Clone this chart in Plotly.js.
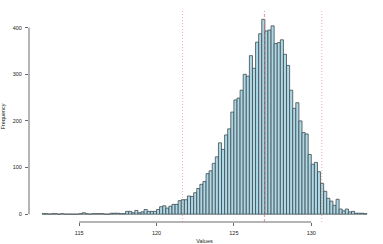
<!DOCTYPE html>
<html>
<head>
<meta charset="utf-8">
<script src="https://cdn.plot.ly/plotly-3.0.1.min.js"></script>
<style>html,body{margin:0;padding:0;background:#fff}#chart{width:383px;height:244px}</style>
</head>
<body>
<div id="chart"></div>
<script>
// Histogram bin left edges (bin width 0.2)
const binLeft = [
  112.6,112.8,113.0,113.2,113.4,113.6,113.8,114.0,114.2,114.4,
  114.6,114.8,115.0,115.2,115.4,115.6,115.8,116.0,116.2,116.4,
  116.6,116.8,117.0,117.2,117.4,117.6,117.8,118.0,118.2,118.4,
  118.6,118.8,119.0,119.2,119.4,119.6,119.8,120.0,120.2,120.4,
  120.6,120.8,121.0,121.2,121.4,121.6,121.8,122.0,122.2,122.4,
  122.6,122.8,123.0,123.2,123.4,123.6,123.8,124.0,124.2,124.4,
  124.6,124.8,125.0,125.2,125.4,125.6,125.8,126.0,126.2,126.4,
  126.6,126.8,127.0,127.2,127.4,127.6,127.8,128.0,128.2,128.4,
  128.6,128.8,129.0,129.2,129.4,129.6,129.8,130.0,130.2,130.4,
  130.6,130.8,131.0,131.2,131.4,131.6,131.8,132.0,132.2,132.4,
  132.6,132.8,133.0,133.2,133.4
];
const binWidth = 0.2;
// Frequencies per bin
const counts = [
  1,1,0,1,1,0,1,0,0,0,
  0,0,1,3,1,0,1,1,1,1,
  0,0,2,2,2,1,1,6,6,3,
  8,3,5,10,6,6,6,10,16,18,
  13,17,21,21,29,31,31,39,38,46,
  55,64,70,87,93,109,123,153,139,170,
  183,219,245,249,266,300,296,340,313,369,
  387,418,393,395,404,366,368,374,343,319,
  266,227,239,200,175,172,128,107,111,91,
  66,49,34,28,19,32,11,7,11,5,
  6,2,2,2,1
];
const xTicks = [115, 120, 125, 130];
const yTicks = [0, 100, 200, 300, 400];
const centerValue = [126.97];           // dashed line
const boundValues = [121.68, 130.68];   // dotted lines

const font = {family: 'Liberation Sans, Arial, sans-serif', size: 5.5, color: '#222'};

const trace = {
  type: 'bar',
  x: binLeft,
  y: counts,
  width: binWidth,
  offset: 0,
  marker: {color: '#ADD8E6', line: {color: '#3f4a4f', width: 0.8}},
  hoverinfo: 'x+y'
};

const shapes = [];
// R-style axis lines spanning tick range only
shapes.push({type:'line', xref:'paper', x0:0, x1:0, yref:'y', y0:yTicks[0], y1:yTicks[yTicks.length-1], line:{color:'#444', width:0.8}});
shapes.push({type:'line', xref:'x', x0:xTicks[0], x1:xTicks[xTicks.length-1], yref:'paper', y0:0, y1:0, line:{color:'#444', width:0.8}});
centerValue.forEach(v => shapes.push({type:'line', xref:'x', x0:v, x1:v, yref:'paper', y0:0, y1:1, line:{color:'rgba(215,110,120,0.75)', width:1, dash:'3px,2px'}}));
boundValues.forEach(v => shapes.push({type:'line', xref:'x', x0:v, x1:v, yref:'paper', y0:0, y1:1, line:{color:'rgba(230,120,130,0.75)', width:0.8, dash:'1px,2px'}}));

const layout = {
  width: 383, height: 244,
  margin: {l: 29, r: 3, t: 11, b: 22},
  paper_bgcolor: '#fff', plot_bgcolor: '#fff',
  font: font,
  showlegend: false,
  bargap: 0,
  xaxis: {
    range: [111.76, 134.44], tickvals: xTicks, ticktext: xTicks.map(String),
    showgrid: false, zeroline: false, showline: false,
    ticks: 'outside', ticklen: 3, tickwidth: 0.8, tickcolor: '#444',
    tickfont: font, ticklabelstandoff: 2,
    title: {text: 'Values', font: font, standoff: 4}
  },
  yaxis: {
    range: [-16.8, 435.8], tickvals: yTicks, ticktext: yTicks.map(String),
    showgrid: false, zeroline: false, showline: false,
    ticks: 'outside', ticklen: 3, tickwidth: 0.8, tickcolor: '#444',
    tickfont: font, ticklabelstandoff: 2,
    title: {text: 'Frequency', font: font, standoff: 6}
  },
  shapes: shapes
};

Plotly.newPlot('chart', [trace], layout, {staticPlot: true, displayModeBar: false});
</script>
</body>
</html>
